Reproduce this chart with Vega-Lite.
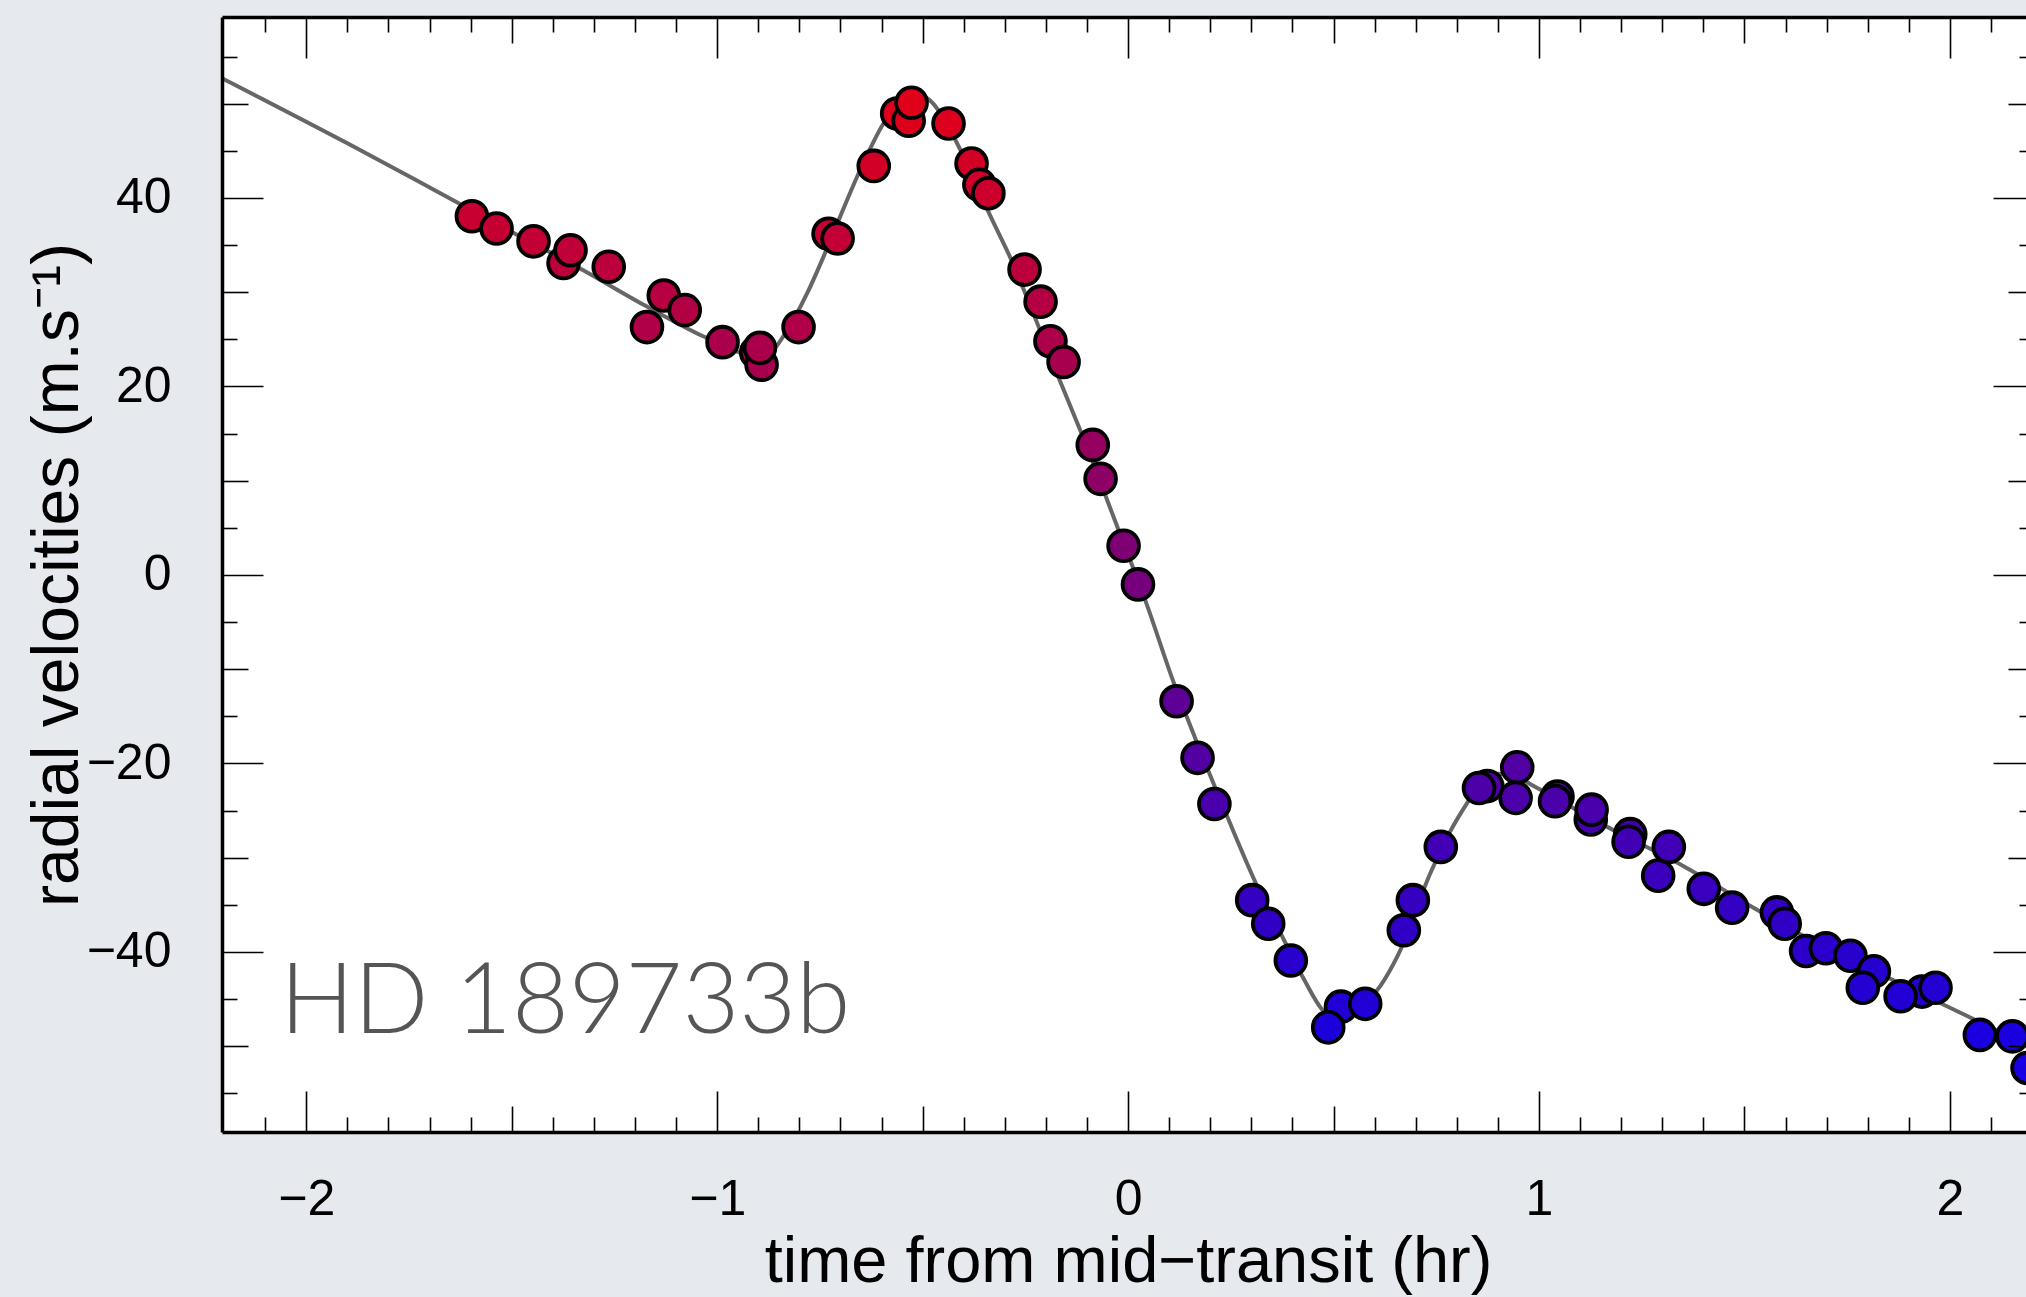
{
  "$schema": "https://vega.github.io/schema/vega-lite/v6.json",
  "width": 1804,
  "height": 1115,
  "autosize": "none",
  "padding": {"left": 222, "top": 17, "right": 0, "bottom": 165},
  "background": "#e6e9ed",
  "view": {"fill": "#ffffff", "stroke": null},
  "config": {"axis": {"grid": false}},
  "datasets": {
    "curve": [
      {"t": -2.2052, "v": 52.7}, {"t": -1.9, "v": 45.8}, {"t": -1.674, "v": 40.5}, {"t": -1.5, "v": 36.4},
      {"t": -1.325, "v": 32.3}, {"t": -1.172, "v": 28.5}, {"t": -1.033, "v": 25.3}, {"t": -0.944, "v": 23.6},
      {"t": -0.895, "v": 23.3}, {"t": -0.863, "v": 23.9}, {"t": -0.838, "v": 25.4}, {"t": -0.781, "v": 29.9},
      {"t": -0.741, "v": 33.8}, {"t": -0.7, "v": 38.1}, {"t": -0.659, "v": 42.3}, {"t": -0.594, "v": 48.0},
      {"t": -0.545, "v": 50.8}, {"t": -0.51, "v": 50.9}, {"t": -0.476, "v": 50.1}, {"t": -0.457, "v": 49.0},
      {"t": -0.421, "v": 46.2}, {"t": -0.331, "v": 37.7}, {"t": -0.287, "v": 33.7}, {"t": -0.222, "v": 26.8},
      {"t": -0.165, "v": 20.5}, {"t": -0.117, "v": 15.4}, {"t": -0.027, "v": 5.2}, {"t": 0.046, "v": -3.2},
      {"t": 0.11, "v": -11.3}, {"t": 0.165, "v": -17.5}, {"t": 0.241, "v": -25.6}, {"t": 0.314, "v": -33.0},
      {"t": 0.379, "v": -38.7}, {"t": 0.428, "v": -42.9}, {"t": 0.472, "v": -46.1}, {"t": 0.505, "v": -47.2},
      {"t": 0.54, "v": -46.6}, {"t": 0.614, "v": -43.6}, {"t": 0.655, "v": -40.5}, {"t": 0.736, "v": -31.6},
      {"t": 0.784, "v": -27.2}, {"t": 0.825, "v": -24.2}, {"t": 0.86, "v": -22.0}, {"t": 0.9, "v": -21.1},
      {"t": 0.94, "v": -21.3}, {"t": 0.987, "v": -22.4}, {"t": 1.165, "v": -26.7}, {"t": 1.352, "v": -30.9},
      {"t": 1.522, "v": -35.3}, {"t": 1.644, "v": -38.3}, {"t": 1.82, "v": -42.1}, {"t": 1.985, "v": -45.6},
      {"t": 2.042, "v": -46.8}, {"t": 2.1852, "v": -49.8}
    ],
    "rv": [
      {"t": -1.597, "v": 38.06}, {"t": -1.537, "v": 36.76}, {"t": -1.447, "v": 35.4}, {"t": -1.374, "v": 33.1},
      {"t": -1.357, "v": 34.45}, {"t": -1.264, "v": 32.7}, {"t": -1.171, "v": 26.3}, {"t": -1.13, "v": 29.65},
      {"t": -1.079, "v": 28.1}, {"t": -0.987, "v": 24.7}, {"t": -0.905, "v": 23.6}, {"t": -0.892, "v": 22.3},
      {"t": -0.896, "v": 24.1}, {"t": -0.802, "v": 26.3}, {"t": -0.729, "v": 36.2}, {"t": -0.707, "v": 35.7},
      {"t": -0.619, "v": 43.4}, {"t": -0.562, "v": 48.96}, {"t": -0.534, "v": 48.2}, {"t": -0.527, "v": 50.1},
      {"t": -0.437, "v": 47.9}, {"t": -0.381, "v": 43.65}, {"t": -0.362, "v": 41.4}, {"t": -0.34, "v": 40.5},
      {"t": -0.252, "v": 32.4}, {"t": -0.213, "v": 29.0}, {"t": -0.189, "v": 24.8}, {"t": -0.157, "v": 22.6},
      {"t": -0.086, "v": 13.8}, {"t": -0.067, "v": 10.2}, {"t": -0.011, "v": 3.1}, {"t": 0.024, "v": -1.0},
      {"t": 0.118, "v": -13.4}, {"t": 0.169, "v": -19.4}, {"t": 0.21, "v": -24.3}, {"t": 0.302, "v": -34.5},
      {"t": 0.341, "v": -37.0}, {"t": 0.396, "v": -40.9}, {"t": 0.518, "v": -45.8}, {"t": 0.487, "v": -48.0},
      {"t": 0.577, "v": -45.5}, {"t": 0.693, "v": -34.5}, {"t": 0.671, "v": -37.7}, {"t": 0.761, "v": -28.85},
      {"t": 0.874, "v": -22.4}, {"t": 0.854, "v": -22.6}, {"t": 0.947, "v": -20.4}, {"t": 0.943, "v": -23.65},
      {"t": 1.045, "v": -23.5}, {"t": 1.039, "v": -24.0}, {"t": 1.126, "v": -25.95}, {"t": 1.128, "v": -24.9},
      {"t": 1.222, "v": -27.5}, {"t": 1.218, "v": -28.3}, {"t": 1.29, "v": -31.9}, {"t": 1.316, "v": -28.85},
      {"t": 1.401, "v": -33.3}, {"t": 1.47, "v": -35.3}, {"t": 1.579, "v": -35.8}, {"t": 1.598, "v": -37.0},
      {"t": 1.65, "v": -39.9}, {"t": 1.698, "v": -39.6}, {"t": 1.758, "v": -40.4}, {"t": 1.815, "v": -42.05},
      {"t": 1.788, "v": -43.8}, {"t": 1.932, "v": -44.2}, {"t": 1.965, "v": -43.8}, {"t": 1.88, "v": -44.7},
      {"t": 2.073, "v": -48.8}, {"t": 2.152, "v": -48.95}, {"t": 2.189, "v": -52.3}
    ],
    "label": [{"name": "HD 189733b"}]
  },
  "layer": [
    {
      "data": {"name": "curve"},
      "mark": {"type": "line", "color": "#666666", "strokeWidth": 4, "interpolate": "monotone"},
      "encoding": {
        "x": {
          "field": "t", "type": "quantitative",
          "scale": {"domain": [-2.2052, 2.1852], "nice": false, "zero": false},
          "axis": {
            "orient": "bottom", "zindex": 1,
            "values": [-2.1,-2,-1.9,-1.8,-1.7,-1.6,-1.5,-1.4,-1.3,-1.2,-1.1,-1,-0.9,-0.8,-0.7,-0.6,-0.5,-0.4,-0.3,-0.2,-0.1,0,0.1,0.2,0.3,0.4,0.5,0.6,0.7,0.8,0.9,1,1.1,1.2,1.3,1.4,1.5,1.6,1.7,1.8,1.9,2,2.1],
            "format": ".0f",
            "labelExpr": "round(datum.value*10) % 10 === 0 ? datum.label : ''",
            "labelOverlap": false, "labelFlush": false, "labelBound": false,
            "labelFont": "Liberation Sans", "labelFontSize": 50, "labelColor": "#000000",
            "labelPadding": 83, "labelBaseline": "top", "labelAlign": "center",
            "domain": true, "domainColor": "#000000", "domainWidth": 3.5,
            "ticks": true, "tickColor": "#000000", "tickWidth": 1.6,
            "tickSize": {"condition": [{"test": "round(datum.value*10) % 10 === 0", "value": -41}, {"test": "round(datum.value*10) % 5 === 0", "value": -26}], "value": -15},
            "title": "time from mid−transit (hr)",
            "titleFont": "Liberation Sans", "titleFontSize": 65, "titleFontWeight": "normal", "titleColor": "#000000",
            "titleX": 906, "titleY": 149, "titleAlign": "center", "titleBaseline": "alphabetic", "titleAngle": 0
          }
        },
        "y": {
          "field": "v", "type": "quantitative",
          "scale": {"domain": [-59.1, 59.2], "nice": false, "zero": false},
          "axis": {
            "orient": "left", "zindex": 1,
            "values": [-55,-50,-45,-40,-35,-30,-25,-20,-15,-10,-5,0,5,10,15,20,25,30,35,40,45,50,55],
            "format": ".0f",
            "labelExpr": "datum.value % 20 === 0 ? datum.label : ''",
            "labelOverlap": false, "labelFlush": false, "labelBound": false,
            "labelFont": "Liberation Sans", "labelFontSize": 50, "labelColor": "#000000",
            "labelPadding": 92, "labelBaseline": "middle", "labelAlign": "right",
            "domain": true, "domainColor": "#000000", "domainWidth": 3.5,
            "ticks": true, "tickColor": "#000000", "tickWidth": 1.6,
            "tickSize": {"condition": [{"test": "datum.value % 20 === 0", "value": -41}, {"test": "datum.value % 10 === 0", "value": -26}], "value": -15},
            "title": "radial velocities (m.s⁻¹)",
            "titleFont": "Liberation Sans", "titleFontSize": 66, "titleFontWeight": "normal", "titleColor": "#000000",
            "titleX": -145, "titleY": 557.5, "titleAlign": "center", "titleBaseline": "alphabetic", "titleAngle": 270
          }
        }
      }
    },
    {
      "data": {"name": "rv"},
      "mark": {"type": "circle", "size": 950, "stroke": "#000000", "strokeWidth": 3.8, "opacity": 1},
      "encoding": {
        "x": {
          "field": "t", "type": "quantitative",
          "scale": {"domain": [-2.2052, 2.1852], "nice": false, "zero": false},
          "axis": {
            "orient": "top", "zindex": 1,
            "values": [-2.1,-2,-1.9,-1.8,-1.7,-1.6,-1.5,-1.4,-1.3,-1.2,-1.1,-1,-0.9,-0.8,-0.7,-0.6,-0.5,-0.4,-0.3,-0.2,-0.1,0,0.1,0.2,0.3,0.4,0.5,0.6,0.7,0.8,0.9,1,1.1,1.2,1.3,1.4,1.5,1.6,1.7,1.8,1.9,2,2.1],
            "labels": false, "title": null,
            "domain": true, "domainColor": "#000000", "domainWidth": 3.5,
            "ticks": true, "tickColor": "#000000", "tickWidth": 1.6,
            "tickSize": {"condition": [{"test": "round(datum.value*10) % 10 === 0", "value": -41}, {"test": "round(datum.value*10) % 5 === 0", "value": -26}], "value": -15}
          }
        },
        "y": {
          "field": "v", "type": "quantitative",
          "scale": {"domain": [-59.1, 59.2], "nice": false, "zero": false},
          "axis": {
            "orient": "right", "zindex": 1,
            "values": [-55,-50,-45,-40,-35,-30,-25,-20,-15,-10,-5,0,5,10,15,20,25,30,35,40,45,50,55],
            "labels": false, "title": null,
            "domain": false,
            "ticks": true, "tickColor": "#000000", "tickWidth": 1.6,
            "tickSize": {"condition": [{"test": "datum.value % 20 === 0", "value": -33}, {"test": "datum.value % 10 === 0", "value": -18}], "value": -7}
          }
        },
        "color": {
          "field": "v", "type": "quantitative",
          "scale": {"domain": [-50, 0, 50], "range": ["#1800e0", "#78007a", "#e0001a"], "interpolate": "rgb", "clamp": true},
          "legend": null
        }
      }
    },
    {
      "data": {"name": "label"},
      "mark": {"type": "text", "font": "Lato", "fontWeight": 300, "fontSize": 98, "color": "#555555", "align": "left", "baseline": "alphabetic"},
      "encoding": {
        "text": {"field": "name", "type": "nominal"},
        "x": {"datum": -2.064, "type": "quantitative", "axis": null},
        "y": {"datum": -48.59, "type": "quantitative", "axis": null}
      }
    }
  ],
  "resolve": {"axis": {"x": "independent", "y": "independent"}}
}
